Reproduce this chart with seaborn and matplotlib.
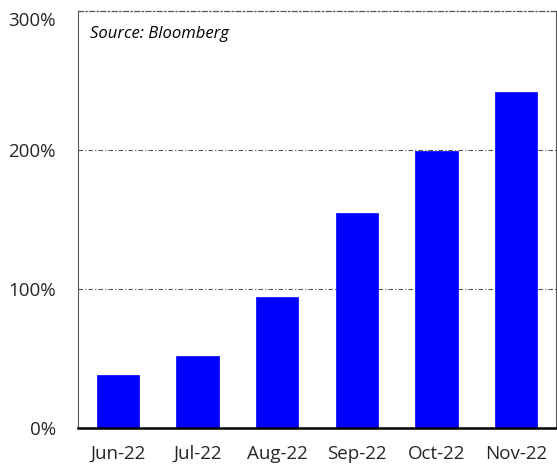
import matplotlib
matplotlib.use("Agg")
import matplotlib.pyplot as plt
import matplotlib.transforms as mtransforms
import seaborn as sns
import pandas as pd
from matplotlib.ticker import FuncFormatter

months = ["Jun-22", "Jul-22", "Aug-22", "Sep-22", "Oct-22", "Nov-22"]
values = [38, 52, 94, 155, 199, 242]

sns.set_theme(style="white")
plt.rcParams['font.family'] = ['Open Sans', 'DejaVu Sans']

df = pd.DataFrame({"month": months, "value": values})

fig = plt.figure(figsize=(5.57, 4.72), dpi=100)
ax = fig.add_axes([78/557, 1 - 428/472, (556-78)/557, (428-11)/472])

sns.barplot(data=df, x="month", y="value", color="#0000FF", saturation=1,
            width=0.53, ax=ax, edgecolor="#0000FF", linewidth=0.5, zorder=3)

ax.set_ylim(0, 300)
ax.set_xlim(-0.5, 5.5)
ax.set_yticks([0, 100, 200, 300])
ax.yaxis.set_major_formatter(FuncFormatter(lambda v, p: f"{int(v)}%"))
ax.set_xlabel("")
ax.set_ylabel("")
for y in [100, 200]:
    ax.axhline(y, color="#555555", linestyle=(0, (4, 2, 1, 2)), linewidth=0.8, zorder=1)

for s in ["left", "right"]:
    ax.spines[s].set_color("#555555")
    ax.spines[s].set_linewidth(0.8)
ax.spines["top"].set_color("#555555")
ax.spines["top"].set_linewidth(0.9)
ax.spines["top"].set_linestyle((0, (4, 2, 1, 2)))
ax.spines["bottom"].set_color("black")
ax.spines["bottom"].set_linewidth(1.8)
ax.spines["bottom"].set_zorder(5)

ax.tick_params(axis="both", length=0, labelsize=13.5, colors="#262626")
ax.tick_params(axis="x", pad=12)
ax.tick_params(axis="y", pad=16)
fig.canvas.draw()
top_lbl = ax.get_yticklabels()[-1]
top_lbl.set_transform(top_lbl.get_transform() +
                      mtransforms.ScaledTranslation(0, -6/72, fig.dpi_scale_trans))

ax.text(0.025, 0.965, "Source: Bloomberg", transform=ax.transAxes, fontsize=12,
        fontstyle="italic", va="top", ha="left", color="black")

fig.savefig("out.png", dpi=100)
